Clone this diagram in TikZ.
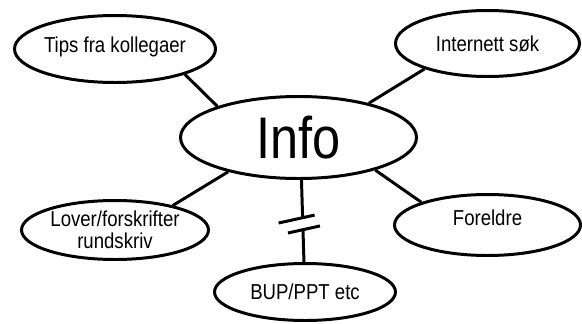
\documentclass[tikz,border=0pt]{standalone}
\usepackage{fontspec}
\setmainfont[FakeStretch=0.86]{Liberation Sans}
\usepackage{tikz}
\usetikzlibrary{positioning,shapes.geometric}

\begin{document}
\begin{tikzpicture}[
    bubble/.style={ellipse,draw,line width=1.7pt,inner sep=0pt,
        font=\fontsize{12.3}{12.5}\selectfont,align=center},
    link/.style={line width=1.7pt}]
    \useasboundingbox (0,0) rectangle (11.64,6.46);

    % Centre
    \node[bubble,minimum width=4.72cm,minimum height=1.64cm,
        font=\fontsize{33.4}{34}\selectfont] (info) at (5.97,3.71) {Info};

    % Sources
    \node[bubble,minimum width=4.02cm,minimum height=1.34cm,text depth=0.17cm] (tips) at (2.30,5.48) {Tips fra kollegaer};
    \node[bubble,minimum width=3.68cm,minimum height=1.32cm] (nett) at (9.75,5.59) {Internett søk};
    \node[bubble,minimum width=3.74cm,minimum height=1.18cm] (lover) at (2.30,1.86) {Lover/forskrifter\\rundskriv};
    \node[bubble,minimum width=3.72cm,minimum height=1.22cm,text depth=0.28cm] (foreldre) at (9.75,1.96) {Foreldre};
    \node[bubble,minimum width=3.62cm,minimum height=1.14cm] (bup) at (6.10,0.62) {BUP/PPT etc};

    % Links
    \draw[link] (tips.-20) -- (info.159);
    \draw[link] (nett.-158) -- (info.26);
    \draw[link] (lover.23) -- (info.-154);
    \draw[link] (foreldre.161) -- (info.-23);

    % Broken link
    \path (info.-86) -- (bup.92) coordinate[pos=0.46] (brkA) coordinate[pos=0.606] (brkB);
    \draw[link] (info.-86) -- (brkA);
    \draw[link] (brkB) -- (bup.92);
    \draw[link] (brkA) ++(-0.48,-0.106) -- ++(0.72,0.159);
    \draw[link] (brkB) ++(-0.30,-0.066) -- ++(0.64,0.141);
\end{tikzpicture}
\end{document}
